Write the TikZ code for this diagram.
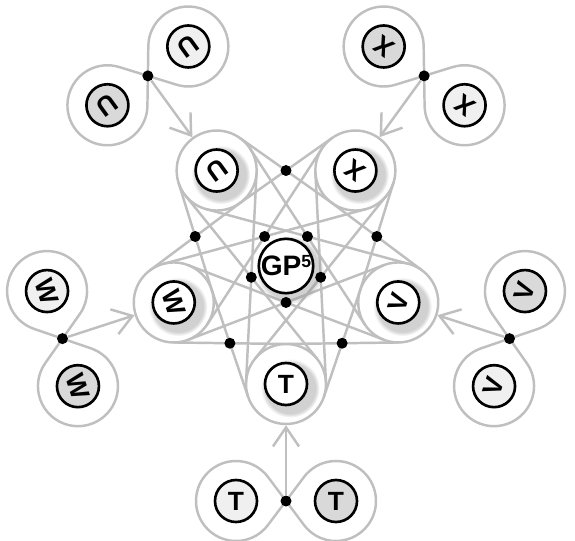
\documentclass[tikz,border=0pt]{standalone}
\usepackage{fontspec}
\setsansfont{Liberation Sans}
\usetikzlibrary{calc,shadows,arrows.meta}

\tikzset{
  ring/.style={circle, draw=gray!50, line width=1.4pt, minimum size=1.6cm, inner sep=0pt},
  link/.style={draw=gray!50, line width=1.4pt},
  vertex/.style={circle, draw, line width=1.5pt, fill=white, minimum size=0.84cm, inner sep=0pt,
    font=\sffamily\bfseries\fontsize{15}{15}\selectfont},
  shadowed/.style={vertex, circular drop shadow={shadow xshift=0.06cm, shadow yshift=-0.06cm,
    shadow scale=#1, fill=black!40, opacity=0.45}},
  shadowed/.default=1.4,
  hub/.style={circle, fill=black, inner sep=0pt, minimum size=0.22cm},
  feed/.style={link, -{Straight Barb[length=3.8mm, width=5.2mm]}},
}

\begin{document}
\begin{tikzpicture}
  \useasboundingbox (-5.72,-5.48) rectangle (5.78,5.32);

  % Rings of the pentagon
  \foreach \v/\t in {T/-90, V/-18, X/54, U/126, W/198}
    \node[ring] (ring\v) at (\t:2.36) {};

  % Crossing tangents between every two rings
  \foreach \a/\b in {T/V, V/X, X/U, U/W, W/T, T/X, X/W, W/V, V/U, U/T}
    \draw[link] let \p1=($(ring\b)-(ring\a)$), \n1={atan2(\y1,\x1)},
        \n2={acos(22.76/(0.5*veclen(\x1,\y1)))} in
      ($(ring\a)+(\n1+\n2:0.8)$) -- ($(ring\b)+(\n1+180+\n2:0.8)$)
      ($(ring\a)+(\n1-\n2:0.8)$) -- ($(ring\b)+(\n1+180-\n2:0.8)$);

  % Centre
  \node[shadowed=1.25, minimum size=1.04cm, font=\sffamily\bfseries\fontsize{16}{16}\selectfont]
    (gp) at (0,0) {GP\raisebox{0.55ex}{\fontsize{10}{10}\selectfont 5}};

  \foreach \a/\b in {T/V, V/X, X/U, U/W, W/T, T/X, X/W, W/V, V/U, U/T}
    \node[hub] (hub\a\b) at ($(ring\a)!0.5!(ring\b)$) {};

  % Outer pairs, each feeding its ring
  \foreach \v/\r in {T/0, V/72, X/144, U/216, W/288} {
    \begin{scope}[rotate=\r]
      \draw[link] (-0.36,-4.22) arc[start angle=36.87, end angle=323.13, radius=0.8]
        -- (0.36,-4.22) arc[start angle=143.13, end angle=-143.13, radius=0.8] -- cycle;
      \node[hub] (out\v) at (0,-4.7) {};
      \node[vertex, fill=gray!12] (lite\v) at (-1,-4.7) {\rotatebox{\r}{\v}};
      \node[vertex, fill=gray!30] (dark\v) at (1,-4.7) {\rotatebox{\r}{\v}};
    \end{scope}
    \draw[feed] (out\v) -- (ring\v);
  }

  % Pentagon vertices
  \foreach \v/\t/\r in {T/-90/0, V/-18/72, X/54/144, U/126/216, W/198/288}
    \node[shadowed] (v\v) at (\t:2.36) {\rotatebox{\r}{\v}};

\end{tikzpicture}
\end{document}
